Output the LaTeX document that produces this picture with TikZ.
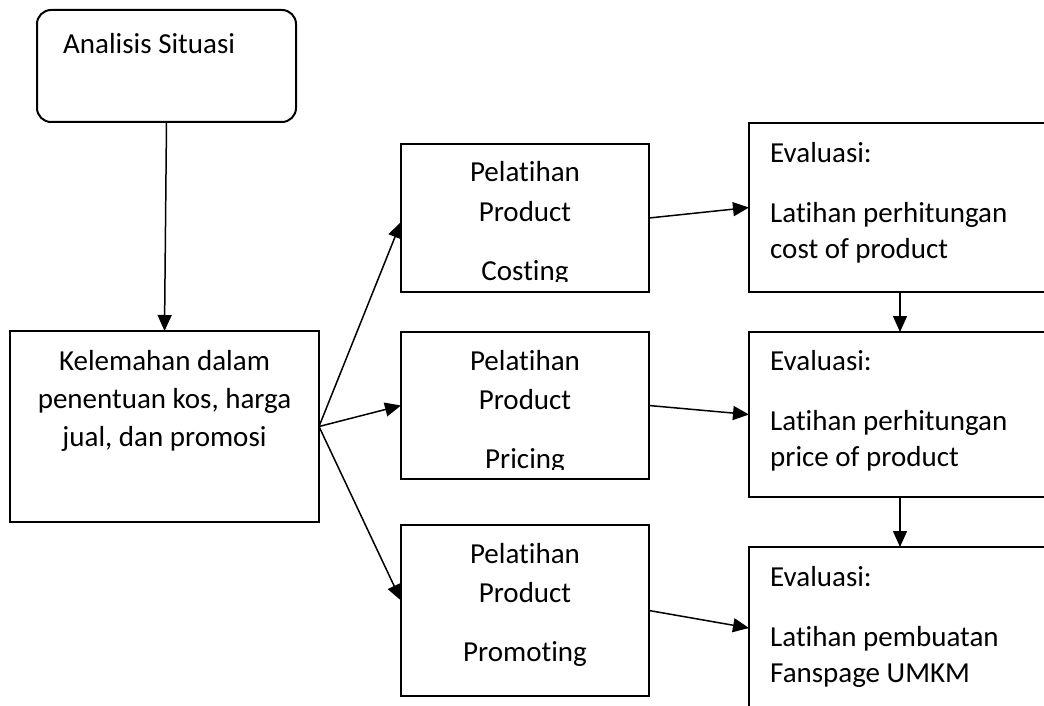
\documentclass[tikz,border=0pt]{standalone}
\usepackage{fontspec}
\setmainfont{Carlito}[Ligatures=NoCommon]
\usetikzlibrary{arrows.meta}

\begin{document}
\begin{tikzpicture}[x=1pt, y=-1pt,
  kotak/.style={draw, line width=2pt, inner sep=0pt, outer sep=0pt},
  teks/.style={inner sep=0pt, font=\fontsize{29}{37}\selectfont},
  panah/.style={line width=1.5pt, -{Triangle[length=16pt, width=14pt]}}]
\useasboundingbox (0,0) rectangle (1044,706);

% kotak-kotak
\node[kotak, rounded corners=14pt, minimum width=259pt, minimum height=112pt] (ana) at (166.5,66) {};
\node[kotak, minimum width=309pt, minimum height=191pt] (kel) at (164.5,426.5) {};
\node[kotak, minimum width=248pt, minimum height=148pt] (p1) at (525,218) {};
\node[kotak, minimum width=248pt, minimum height=147pt] (p2) at (525,405.5) {};
\node[kotak, minimum width=248pt, minimum height=171pt] (p3) at (525,610.5) {};
\node[kotak, minimum width=302pt, minimum height=169pt] (e1) at (900,207.5) {};
\node[kotak, minimum width=302pt, minimum height=165pt] (e2) at (900,414.5) {};
\node[kotak, minimum width=302pt, minimum height=162pt] (e3) at (900,628) {};

% tulisan
\node[teks, anchor=base west] (t-ana) at (63,54) {Analisis Situasi};
\node[teks, anchor=base] (t-kel1) at (164.5,370) {Kelemahan dalam};
\node[teks, anchor=base] (t-kel2) at (164.5,408) {penentuan kos, harga};
\node[teks, anchor=base] (t-kel3) at (164.5,446) {jual, dan promosi};

\node[teks, anchor=base] (t-p1a) at (525,182) {Pelatihan};
\node[teks, anchor=base] (t-p1b) at (525,221) {Product};
\begin{scope}
\clip (401,144) rectangle (649,281);
\node[teks, anchor=base] (t-p1c) at (525,280) {Costing};
\end{scope}

\node[teks, anchor=base] (t-p2a) at (525,370) {Pelatihan};
\node[teks, anchor=base] (t-p2b) at (525,409) {Product};
\begin{scope}
\clip (401,332) rectangle (649,469);
\node[teks, anchor=base] (t-p2c) at (525,468) {Pricing};
\end{scope}

\node[teks, anchor=base] (t-p3a) at (525,563) {Pelatihan};
\node[teks, anchor=base] (t-p3b) at (525,602) {Product};
\node[teks, anchor=base] (t-p3c) at (525,661) {Promoting};

\node[teks, anchor=base west] (t-e1a) at (770,162) {Evaluasi:};
\node[teks, anchor=base west] (t-e1b) at (770,222) {Latihan perhitungan};
\node[teks, anchor=base west] (t-e1c) at (770,258) {cost of product};

\node[teks, anchor=base west] (t-e2a) at (770,370) {Evaluasi:};
\node[teks, anchor=base west] (t-e2b) at (770,430) {Latihan perhitungan};
\node[teks, anchor=base west] (t-e2c) at (770,466) {price of product};

\node[teks, anchor=base west] (t-e3a) at (770,586) {Evaluasi:};
\node[teks, anchor=base west] (t-e3b) at (770,646) {Latihan pembuatan};
\node[teks, anchor=base west] (t-e3c) at (770,682) {Fanspage UMKM};

% panah
\draw[panah] (ana.south) -- (kel.north);
\draw[panah] (kel.east) -- ([yshift=-4pt]p1.west);
\draw[panah] (kel.east) -- (p2.west);
\draw[panah] (kel.east) -- ([yshift=10pt]p3.west);
\draw[panah] (p1.east) -- (e1.west);
\draw[panah] (p2.east) -- (e2.west);
\draw[panah] (p3.east) -- (e3.west);
\draw[panah] (e1.south) -- (e2.north);
\draw[panah] (e2.south) -- (e3.north);
\end{tikzpicture}
\end{document}
